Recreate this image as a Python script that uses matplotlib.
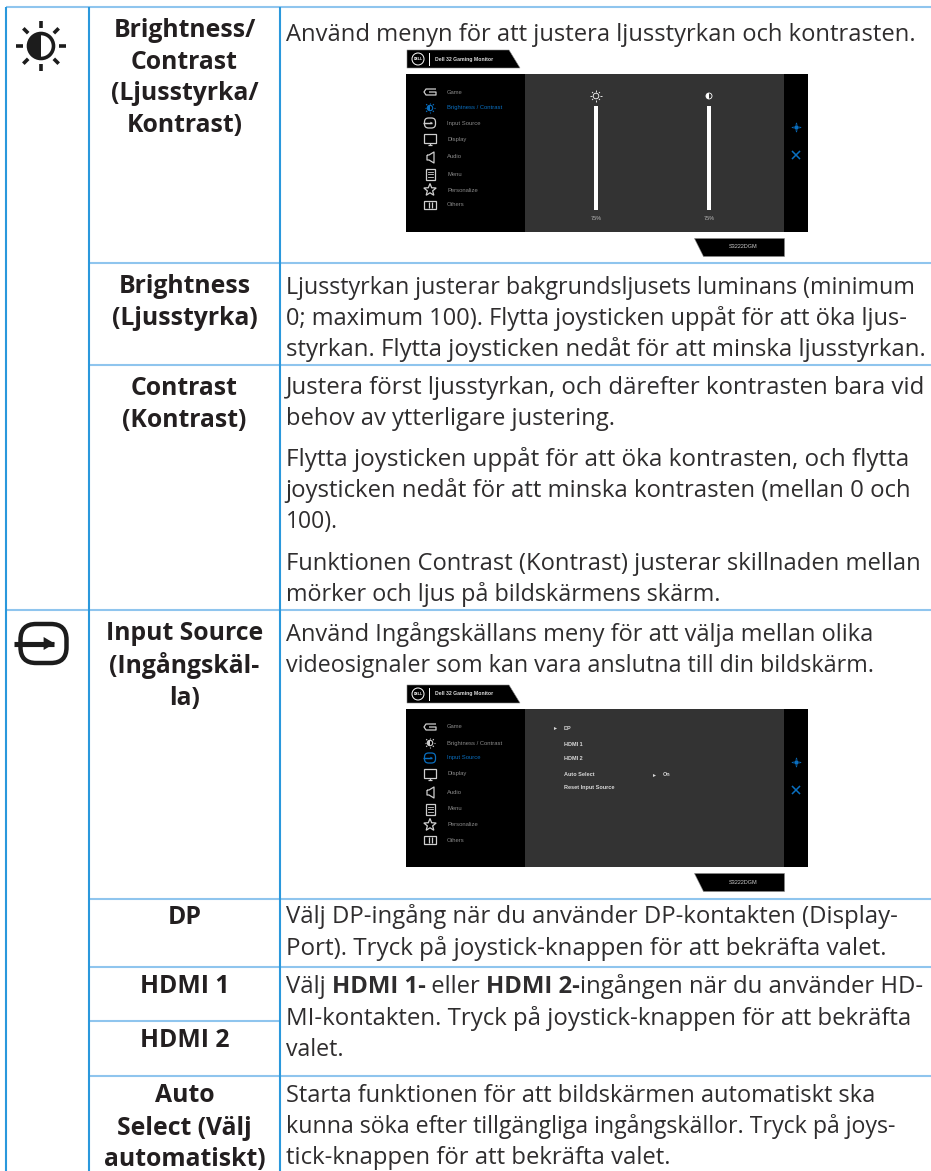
import matplotlib
matplotlib.use("Agg")
import matplotlib.pyplot as plt
from matplotlib.patches import Rectangle, Polygon, Circle, Wedge, FancyBboxPatch
import numpy as np

W, H = 931, 1171
FONT = "Open Sans"
INK = "#231f20"
BODY_INK = "#2f2d2e"
VLINE = "#2a98dc"
HLINE = "#8fc5ee"
BODY_SIZE = 17.15
HEAD_SIZE = 17.8
BODY_LEFT = 285.5

# table grid
col_x = [6, 89, 280]
full_rows = [263, 365, 610, 899, 967, 1076]
partial_rows = [1021]
top_row = 7

# first-column headings: (text, baseline)
headings = [
    ("Brightness/", 37), ("Contrast", 69), ("(Ljusstyrka/", 100), ("Kontrast)", 132),
    ("Brightness", 293), ("(Ljusstyrka)", 325),
    ("Contrast", 395), ("(Kontrast)", 427),
    ("Input Source", 640), ("(Ingångskäl-", 673), ("la)", 705),
    ("DP", 924), ("HDMI 1", 993), ("HDMI 2", 1047),
    ("Auto", 1102), ("Select (Välj", 1135), ("automatiskt)", 1166),
]

# body lines: (baseline, right edge, [(segment, bold)])
body = [
    (41, 913, [("Använd menyn för att justera ljusstyrkan och kontrasten.", False)]),
    (294, 915, [("Ljusstyrkan justerar bakgrundsljusets luminans (minimum", False)]),
    (325, 908, [("0; maximum 100). Flytta joysticken uppåt för att öka ljus-", False)]),
    (356, 923, [("styrkan. Flytta joysticken nedåt för att minska ljusstyrkan.", False)]),
    (394, 923, [("Justera först ljusstyrkan, och därefter kontrasten bara vid", False)]),
    (425, 613, [("behov av ytterligare justering.", False)]),
    (466, 906, [("Flytta joysticken uppåt för att öka kontrasten, och flytta", False)]),
    (497, 911, [("joysticken nedåt för att minska kontrasten (mellan 0 och", False)]),
    (528, 336, [("100).", False)]),
    (570, 919, [("Funktionen Contrast (Kontrast) justerar skillnaden mellan", False)]),
    (601, 720, [("mörker och ljus på bildskärmens skärm.", False)]),
    (641, 872, [("Använd Ingångskällans meny för att välja mellan olika", False)]),
    (672, 874, [("videosignaler som kan vara anslutna till din bildskärm.", False)]),
    (923, 897, [("Välj DP-ingång när du använder DP-kontakten (Display-", False)]),
    (955, 885, [("Port). Tryck på joystick-knappen för att bekräfta valet.", False)]),
    (993, 922, [("Välj ", False), ("HDMI 1-", True), (" eller ", False), ("HDMI 2-", True), ("ingången när du använder HD-", False)]),
    (1025, 911, [("MI-kontakten. Tryck på joystick-knappen för att bekräfta", False)]),
    (1056, 343, [("valet.", False)]),
    (1102, 876, [("Starta funktionen för att bildskärmen automatiskt ska", False)]),
    (1133, 896, [("kunna söka efter tillgängliga ingångskällor. Tryck på joys-", False)]),
    (1164, 670, [("tick-knappen för att bekräfta valet.", False)]),
]

# on-screen-display contents
osd_tops = [74, 709]
menu_items = ["Game", "Brightness / Contrast", "Input Source", "Display", "Audio", "Menu", "Personalize", "Others"]
menu_offsets = [18, 34, 49, 65, 83, 100, 116, 131]
slider_x = [596, 709]
input_items = ["DP", "HDMI 1", "HDMI 2", "Auto Select", "Reset Input Source"]
input_offsets = [19, 35, 50, 66, 79]

fig = plt.figure(figsize=(W / 100, H / 100), dpi=100)
ax = fig.add_axes([0, 0, 1, 1])
ax.set_xlim(0, W)
ax.set_ylim(H, 0)
ax.axis("off")
ax.set_aspect("auto")

# grid
for y in full_rows + [top_row]:
    x0 = col_x[0] if y in (top_row, 610) else col_x[1]
    ax.plot([x0, W], [y, y], color=HLINE, lw=1.5, solid_capstyle="butt", zorder=2)
for y in partial_rows:
    ax.plot([col_x[1], col_x[2]], [y, y], color=HLINE, lw=1.5, solid_capstyle="butt", zorder=2)
for x in col_x:
    ax.plot([x, x], [top_row, H], color=VLINE, lw=1.5, solid_capstyle="butt", zorder=3)

# headings and body text
for t, y in headings:
    ax.text(184.5, y, t, ha="center", va="baseline", fontsize=HEAD_SIZE, fontweight="bold", color=INK, family=FONT)

renderer = fig.canvas.get_renderer()
def adv(s, bold, size):
    kw = dict(fontsize=size, fontweight="bold" if bold else "normal", family=FONT)
    a = ax.text(0, 0, "|" + s + "|", **kw); b = ax.text(0, 0, "||", **kw)
    w = a.get_window_extent(renderer).width - b.get_window_extent(renderer).width
    a.remove(); b.remove()
    return w

for y, right, segs in body:
    natural = sum(adv(s, bold, BODY_SIZE) for s, bold in segs)
    scale = min(max((right - BODY_LEFT) / natural, 0.96), 1.04)
    size = BODY_SIZE * scale
    x = BODY_LEFT
    for s, bold in segs:
        ax.text(x, y, s, ha="left", va="baseline", fontsize=size, fontweight="bold" if bold else "normal", color=BODY_INK, family=FONT)
        x += adv(s, bold, size)

BLUE = "#0a6fc0"
GREY = "#8a8a8a"

def sun(cx, cy, r, color, lw, fill=True):
    for a in np.arange(0, 360, 45):
        c, s = np.cos(np.radians(a)), np.sin(np.radians(a))
        ax.plot([cx + c * r * 1.45, cx + c * r * 2], [cy + s * r * 1.45, cy + s * r * 2], color=color, lw=lw, solid_capstyle="butt", zorder=6)
    ax.add_patch(Circle((cx, cy), r, fc="none", ec=color, lw=lw, zorder=6))
    if fill:
        ax.add_patch(Wedge((cx, cy), r, 90, 270, fc=color, ec="none", zorder=6))

def input_icon(cx, cy, hw, hh, color, lw, awid):
    c = hh * 0.8
    ax.add_patch(FancyBboxPatch((cx - hw + c, cy - hh + c), 2 * (hw - c), 2 * (hh - c),
                                boxstyle=f"round,pad={c},rounding_size={c}", fc="none", ec=color, lw=lw, zorder=6))
    x0 = cx - hw * 1.28
    x1 = cx + hw * 0.44
    ax.plot([x0, x1], [cy, cy], color=color, lw=lw * 1.15, solid_capstyle="butt", zorder=7)
    ax.add_patch(Polygon([(x1 - awid, cy - awid * 0.65), (x1 + awid * 0.1, cy), (x1 - awid, cy + awid * 0.65)], fc=color, ec="none", zorder=7))

def menu_icon(i, x, y, color):
    kw = dict(color=color, lw=0.9, zorder=6, solid_capstyle="butt")
    if i == 0:
        ax.plot([x + 6, x - 4, x - 6, x - 4, x + 6, x + 6, x - 1], [y - 3, y - 3, y, y + 3, y + 3, y, y], **kw)
    elif i == 1:
        sun(x, y, 2.7, color, 0.8)
    elif i == 2:
        input_icon(x, y, 5.5, 5, color, 0.9, 2)
    elif i == 3:
        ax.add_patch(Rectangle((x - 6, y - 5), 12, 9, fc="none", ec=color, lw=0.9, zorder=6))
        ax.plot([x - 2, x + 2], [y + 6, y + 6], **kw)
        ax.plot([x, x], [y + 4, y + 6], **kw)
    elif i == 4:
        ax.plot([x - 3, x - 1, x + 4, x + 4, x - 1, x - 3, x - 3], [y - 2, y - 2, y - 5, y + 6, y + 3, y + 3, y - 2], **kw)
    elif i == 5:
        ax.add_patch(Rectangle((x - 4.5, y - 5.5), 9, 11, fc="none", ec=color, lw=0.9, zorder=6))
        for d in (-2.5, 0, 2.5):
            ax.plot([x - 2.5, x + 2.5], [y + d, y + d], color=color, lw=0.6, zorder=6)
    elif i == 6:
        a = np.radians(np.arange(-90, 270, 36))
        r = np.where(np.arange(10) % 2 == 0, 6.5, 2.8)
        ax.add_patch(Polygon(np.c_[x + r * np.cos(a), y + r * np.sin(a)], fc="none", ec=color, lw=0.9, zorder=6))
    else:
        ax.add_patch(Rectangle((x - 6, y - 4), 12, 8, fc="none", ec=color, lw=0.9, zorder=6))
        ax.plot([x - 1.5, x - 1.5], [y - 3, y + 3], **kw)
        ax.plot([x + 1.5, x + 1.5], [y - 3, y + 3], **kw)

def osd(top, active):
    ax.add_patch(Rectangle((406, top), 402, 158, fc="black", ec="none", zorder=4))
    ax.add_patch(Rectangle((525, top), 259, 158, fc="#333333", ec="none", zorder=5))
    ax.add_patch(Polygon([(407, top - 24), (509, top - 24), (520, top - 6), (407, top - 6)], fc="black", ec="#888888", lw=0.4, zorder=4))
    ax.add_patch(Circle((418, top - 15), 6, fc="black", ec="white", lw=0.7, zorder=6))
    ax.text(418, top - 15, "DELL", color="white", fontsize=2.5, fontweight="bold", ha="center", va="center", zorder=7, family="Liberation Sans")
    ax.plot([429, 429], [top - 21, top - 9], color="white", lw=0.7, zorder=6)
    ax.text(435, top - 15, "Dell 32 Gaming Monitor", color="#dddddd", fontsize=3.7, fontweight="bold", ha="left", va="center", zorder=7, family="Liberation Sans")
    ax.add_patch(Polygon([(694, top + 164), (784, top + 164), (784, top + 182), (703, top + 182)], fc="black", ec="#888888", lw=0.4, zorder=4))
    ax.text(743, top + 173, "S3222DGM", color="#cccccc", fontsize=4.0, ha="center", va="center", zorder=7, family="Liberation Sans")
    for i, (name, off) in enumerate(zip(menu_items, menu_offsets)):
        c = BLUE if i == active else GREY
        ax.text(447, top + off, name, color=c, fontsize=4.2, ha="left", va="center", zorder=7, family="Liberation Sans")
        menu_icon(i, 430, top + off, BLUE if i == active else "#cfcfcf")
    # joystick and close glyphs
    x, y = 796, top + 53
    ax.plot([x], [y], "o", ms=2.2, color=BLUE, zorder=7)
    for dx, dy, mk in [(-3.6, 0, "<"), (3.6, 0, ">"), (0, -3.6, "^"), (0, 3.6, "v")]:
        ax.plot([x + dx], [y + dy], mk, ms=1.6, color=BLUE, mew=0, zorder=7)
    y = top + 81
    ax.plot([x - 3.5, x + 3.5], [y - 3.5, y + 3.5], color=BLUE, lw=1.1, zorder=7)
    ax.plot([x - 3.5, x + 3.5], [y + 3.5, y - 3.5], color=BLUE, lw=1.1, zorder=7)

# first screen: sliders
osd(osd_tops[0], 1)
for k, x in enumerate(slider_x):
    ax.add_patch(Rectangle((x - 2, osd_tops[0] + 32), 4, 104, fc="white", ec="none", zorder=6))
    ax.text(x + 0, osd_tops[0] + 145, "75%", color="#bbbbbb", fontsize=4.0, ha="center", va="center", zorder=7, family="Liberation Sans")
sun(slider_x[0], osd_tops[0] + 22, 2.8, "white", 0.6, fill=False)
ax.add_patch(Circle((slider_x[1], osd_tops[0] + 22), 3, fc="#333333", ec="white", lw=0.6, zorder=7))
ax.add_patch(Wedge((slider_x[1], osd_tops[0] + 22), 3, 90, 270, fc="white", ec="none", zorder=7))

# second screen: input list
osd(osd_tops[1], 2)
for name, off in zip(input_items, input_offsets):
    ax.text(564, osd_tops[1] + off, name, color="#d8d8d8", fontsize=4.0, fontweight="bold", ha="left", va="center", zorder=7, family="Liberation Sans")
ax.plot([555], [osd_tops[1] + 19], ">", ms=2.2, color="#d8d8d8", mew=0, zorder=7)
ax.plot([654], [osd_tops[1] + 66], ">", ms=2.2, color="#d8d8d8", mew=0, zorder=7)
ax.text(662.5, osd_tops[1] + 66, "On", color="#d8d8d8", fontsize=4.0, fontweight="bold", ha="left", va="center", zorder=7, family="Liberation Sans")

# large row icons
sun(41, 46, 12.5, "#1c1c1c", 2.6)
input_icon(43.5, 643.5, 23, 19.5, "#1c1c1c", 3.2, 10)

fig.savefig("out.png", dpi=100)
